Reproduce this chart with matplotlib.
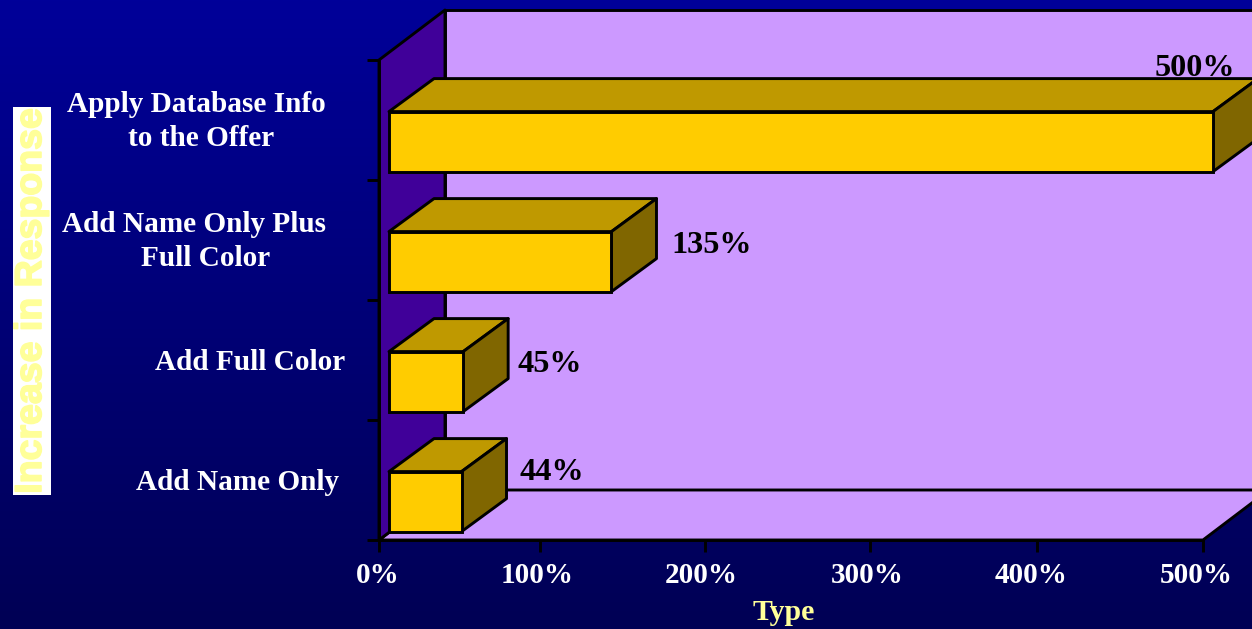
import numpy as np
import matplotlib
matplotlib.use("Agg")
import matplotlib.pyplot as plt
import matplotlib.patheffects as pe
from matplotlib.patches import Polygon
from matplotlib.transforms import Affine2D

values = [44, 45, 135, 500]
value_labels = ["44%", "45%", "135%", "500%"]
x_ticks = [0, 100, 200, 300, 400, 500]
x_tick_labels = ["0%", "100%", "200%", "300%", "400%", "500%"]
category_lines = [
    ["Add Name Only"],
    ["Add Full Color"],
    ["Add Name Only Plus", "Full Color"],
    ["Apply Database Info", "to the Offer"],
]
x_title = "Type"
y_title = "Increase in Response"

W, H = 1252, 629
fig = plt.figure(figsize=(W / 100, H / 100), dpi=100)
plt.rcParams["font.family"] = ["Liberation Serif", "DejaVu Serif"]
SERIF = "Liberation Serif"

# background gradient
bg = fig.add_axes([0, 0, 1, 1], zorder=0)
bg.axis("off")
grad = np.zeros((256, 1, 3))
grad[..., 2] = np.linspace(0.60, 0.33, 256)[:, None]
bg.imshow(grad, aspect="auto", extent=[0, 1, 0, 1], interpolation="bilinear")

# plot axes: front plane
L, R, T, B = 379, 1203, 60, 540
ax = fig.add_axes([L / W, 1 - B / H, (R - L) / W, (B - T) / H], zorder=1)
ax.set_xlim(0, 500)
ax.set_ylim(0, 4)
ax.patch.set_visible(False)
ux = (R - L) / 500   # px per x unit
uy = (B - T) / 4     # px per y unit

EDGE = "black"
LW = 2.1
wall_dx, wall_dy = 66 / ux, 50 / uy
bar_dx, bar_dy = 45 / ux, 33 / uy
bar_left = 10 / ux
bar_h = 60 / uy
bar_shift = 0.32


def poly(pts, fc, z, ec=EDGE):
    p = Polygon(pts, closed=True, facecolor=fc, edgecolor=ec, linewidth=LW,
                joinstyle="round", clip_on=False, zorder=z)
    ax.add_patch(p)


# back wall, floor, side wall
poly([(wall_dx, wall_dy), (500 + wall_dx, wall_dy), (500 + wall_dx, 4 + wall_dy), (wall_dx, 4 + wall_dy)], "#CC99FF", 1)
poly([(0, 0), (500, 0), (500 + wall_dx, wall_dy), (wall_dx, wall_dy)], "#CC99FF", 1.1)
poly([(0, 0), (wall_dx, wall_dy), (wall_dx, 4 + wall_dy), (0, 4)], "#400099", 1.2)

# bars
ypos = np.arange(len(values)) + bar_shift
ax.barh(ypos, values, left=bar_left, height=bar_h, color="#FFCC00", edgecolor=EDGE,
        linewidth=LW, zorder=3, clip_on=False)
for y, v in zip(ypos, values):
    x1 = bar_left + v
    top = y + bar_h / 2
    bot = y - bar_h / 2
    poly([(bar_left, top), (x1, top), (x1 + bar_dx, top + bar_dy), (bar_left + bar_dx, top + bar_dy)], "#BF9900", 2.5)
    poly([(x1, bot), (x1 + bar_dx, bot + bar_dy), (x1 + bar_dx, top + bar_dy), (x1, top)], "#806600", 2.5)

# value labels, offset in pixels from the bar end
label_off = [(58, 29), (54, 17), (60, 16), (-58, 73)]
for y, v, s, (ox, oy) in zip(ypos, values, value_labels, label_off):
    ax.annotate(s, xy=(bar_left + v, y), xytext=(ox * 0.72, oy * 0.72), textcoords="offset points",
                ha="left", va="center", fontsize=23.2, fontweight="bold", family=SERIF,
                color="black", zorder=5, annotation_clip=False)

# axes
for s in ("top", "right"):
    ax.spines[s].set_visible(False)
for s in ("left", "bottom"):
    ax.spines[s].set_linewidth(LW)
    ax.spines[s].set_zorder(4)
ax.set_xticks(x_ticks)
ax.set_xticklabels(x_tick_labels, fontsize=21, fontweight="bold", color="white", family=SERIF)
ax.set_yticks(range(5))
ax.set_yticklabels([])
ax.tick_params(axis="both", length=8.6, width=LW, color="black", direction="out")
ax.tick_params(axis="x", pad=7)
# the source drew its tick marks and labels a few pixels off the linear scale
mark_nudge = [0, -4, -4, -3, -1, 0]
label_nudge = [-1, -7, -7, -6, -7, -7]
for t, lab, mn, ln in zip(ax.xaxis.get_major_ticks(), ax.get_xticklabels(), mark_nudge, label_nudge):
    t.tick1line.set_transform(t.tick1line.get_transform() + Affine2D().translate(mn, 0))
    lab.set_transform(lab.get_transform() + Affine2D().translate(ln, 0))

# category labels (each line centred at its own pixel position)
line_pos = [
    [(238, 482)],
    [(250, 362)],
    [(194, 224), (206, 258)],
    [(196, 104), (201, 138)],
]
for lines, pos in zip(category_lines, line_pos):
    for s, (px, py) in zip(lines, pos):
        fig.text(px / W, 1 - py / H, s, ha="center", va="center", fontsize=21.1,
                 fontweight="bold", color="white", family=SERIF, zorder=6)

fig.text(784 / W, 1 - 613 / H, x_title, ha="center", va="center", fontsize=21.5,
         fontweight="bold", color="#FFFF99", family=SERIF, zorder=6)

# y title on its white box
bg.add_patch(plt.Rectangle((13 / W, 1 - 495 / H), 38 / W, 388 / H, facecolor="white",
                           edgecolor="none", transform=fig.transFigure, zorder=2))
fig.text(31 / W, 1 - 301 / H, y_title, rotation=90, ha="center", va="center", fontsize=27,
         fontweight="bold", color="#FFFF99", family="Liberation Sans", zorder=6,
         path_effects=[pe.withStroke(linewidth=1.2, foreground="#FFFF99")])

fig.savefig("out.png", dpi=100)
